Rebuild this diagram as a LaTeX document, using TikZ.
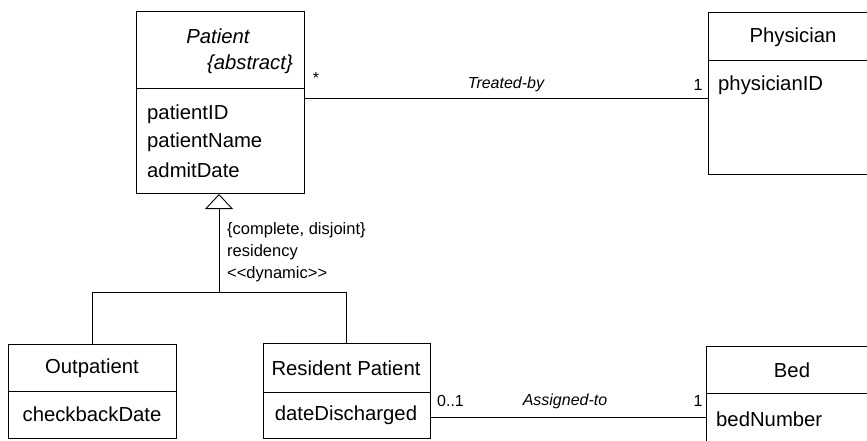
\documentclass[tikz,border=0pt]{standalone}
\usepackage{fontspec}
\setmainfont{Liberation Sans}
\usetikzlibrary{arrows.meta}
\begin{document}
\begin{tikzpicture}[x=1pt,y=-1pt,
  classbox/.style={draw,line width=1pt,rectangle,anchor=north west,inner sep=0pt},
  divider/.style={line width=0.9pt},
  conn/.style={line width=0.9pt},
  txt/.style={inner sep=0pt,font=\fontsize{20.3}{24}\selectfont},
  itxt/.style={inner sep=0pt,font=\fontsize{20.3}{24}\selectfont\itshape},
  lbl/.style={inner sep=0pt,font=\fontsize{16}{19}\selectfont},
  ilbl/.style={inner sep=0pt,font=\fontsize{16}{19}\selectfont\itshape},
  gen/.style={-{Triangle[open,width=28pt,length=15pt]},line width=0.9pt}]
\useasboundingbox (0,0) rectangle (867,440);
\begin{scope}
\clip (0,0) rectangle (867,440);
% Patient
\node[classbox,minimum width=168pt,minimum height=182pt] (patient) at (136,11) {};
\draw[divider] (136,88) -- (304,88);
\node[itxt] (pname) at (218,36) {Patient};
\node[itxt,anchor=east] (pabs) at (293,64) {\{abstract\}};
\node[txt,anchor=west] (pa1) at (147,114) {patientID};
\node[txt,anchor=west] (pa2) at (147,142) {patientName};
\node[txt,anchor=west] (pa3) at (147,170) {admitDate};
% Physician
\node[classbox,minimum width=172pt,minimum height=162pt] (physician) at (708,12) {};
\draw[divider] (708,60) -- (880,60);
\node[txt] (phname) at (793,37) {Physician};
\node[txt,anchor=west] (pha1) at (718,85) {physicianID};
% Outpatient
\node[classbox,minimum width=168pt,minimum height=94pt] (outp) at (8,344) {};
\draw[divider] (8,391) -- (176,391);
\node[txt] (oname) at (92,368) {Outpatient};
\node[txt] (oa1) at (92,414) {checkbackDate};
% Resident Patient
\node[classbox,minimum width=167pt,minimum height=95pt] (resp) at (263,343) {};
\draw[divider] (263,392) -- (430,392);
\node[txt] (rname) at (346,368) {Resident Patient};
\node[txt] (ra1) at (346,415) {dateDischarged};
% Bed
\node[classbox,minimum width=174pt,minimum height=110pt] (bed) at (706,346) {};
\draw[divider] (706,393) -- (880,393);
\node[txt] (bname) at (792,370) {Bed};
\node[txt,anchor=west] (ba1) at (716,419) {bedNumber};
% Treated-by association
\coordinate (tb1) at (304,98);
\coordinate (tb2) at (708,98);
\draw[conn] (tb1) -- (tb2);
\node[lbl] (star) at (316,78) {*};
\node[ilbl] (treated) at (506,84) {Treated-by};
\node[lbl] (one1) at (698,85) {1};
% Assigned-to association
\coordinate (as1) at (430,417);
\coordinate (as2) at (706,417);
\draw[conn] (as1) -- (as2);
\node[lbl,anchor=west] (zo) at (437,401) {0..1};
\node[ilbl] (assigned) at (565,401) {Assigned-to};
\node[lbl] (one2) at (698,401) {1};
% Generalization
\coordinate (apex) at (219,194);
\coordinate (junc) at (219,292);
\coordinate (jl) at (92,292);
\coordinate (jr) at (346,292);
\draw[conn] (jl) -- (jr);
\draw[conn] (jl) -- (outp.north -| jl);
\draw[conn] (jr) -- (resp.north -| jr);
\draw[gen] (junc) -- (apex);
\node[lbl,anchor=north west,align=left,font=\fontsize{16.5}{22}\selectfont] (constr) at (227,222)
  {\{complete, disjoint\}\\residency\\<{}<dynamic>{}>};
\end{scope}
\end{tikzpicture}
\end{document}
